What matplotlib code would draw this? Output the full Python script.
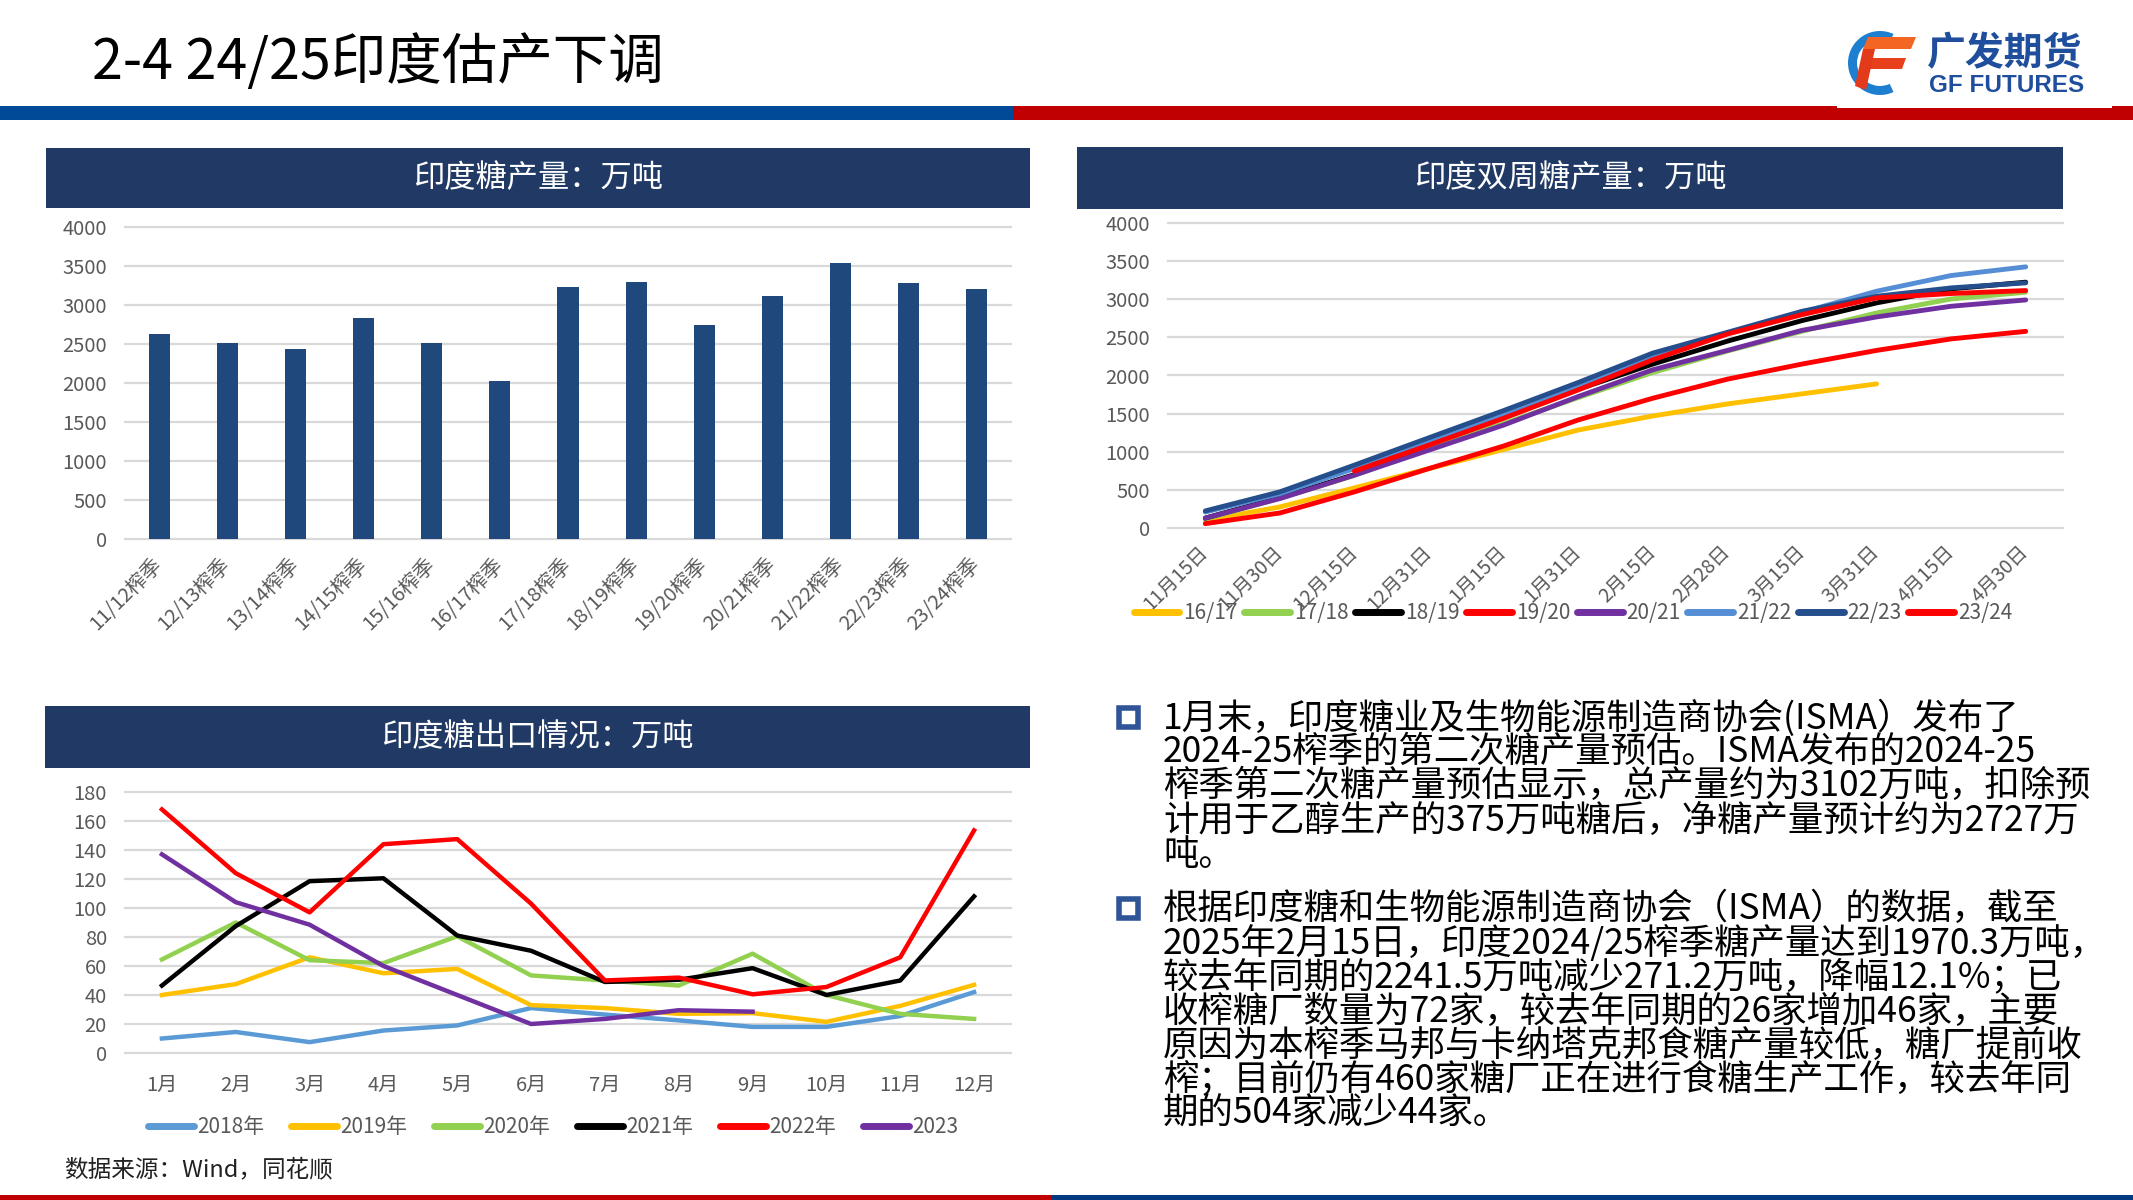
import numpy as np
import matplotlib
matplotlib.use('Agg')
import matplotlib.pyplot as plt
from matplotlib.patches import Rectangle, Wedge, Polygon
from matplotlib.lines import Line2D

plt.rcParams['font.family'] = ['Noto Sans CJK SC', 'DejaVu Sans']

# ---- data ----
seasons = ['11/12榨季', '12/13榨季', '13/14榨季', '14/15榨季', '15/16榨季', '16/17榨季', '17/18榨季',
           '18/19榨季', '19/20榨季', '20/21榨季', '21/22榨季', '22/23榨季', '23/24榨季']
production = [2630, 2510, 2440, 2830, 2510, 2030, 3230, 3300, 2750, 3120, 3540, 3280, 3200]

dates = ['11月15日', '11月30日', '12月15日', '12月31日', '1月15日', '1月31日', '2月15日',
         '2月28日', '3月15日', '3月31日', '4月15日', '4月30日']
s1617 = [100, 276, 526, 780, 1030, 1285, 1469, 1627, 1759, 1890, np.nan, np.nan]
s1718 = [120, 390, 690, 1050, 1370, 1710, 2040, 2320, 2580, 2820, 3004, 3092]
s1819 = [130, 400, 700, 1100, 1450, 1820, 2150, 2450, 2720, 2952, 3136, 3224]
s1920 = [57, 197, 474, 780, 1075, 1417, 1702, 1952, 2150, 2329, 2480, 2579]
s2021 = [130, 386, 693, 1022, 1350, 1724, 2075, 2329, 2592, 2768, 2908, 2991]
s2122 = [210, 450, 780, 1130, 1482, 1855, 2259, 2557, 2829, 3105, 3311, 3425]
s2223 = [224, 474, 825, 1184, 1540, 1908, 2294, 2566, 2842, 3039, 3149, 3215]
s2324 = [np.nan, np.nan, 746, 1088, 1439, 1811, 2206, 2544, 2798, 3018, 3075, 3114]
biweek_names = ['16/17', '17/18', '18/19', '19/20', '20/21', '21/22', '22/23', '23/24']
biweek_colors = ['#FFC000', '#92D050', '#000000', '#FF0000', '#7030A0', '#558ED5', '#254F8C', '#FF0000']

months = ['1月', '2月', '3月', '4月', '5月', '6月', '7月', '8月', '9月', '10月', '11月', '12月']
exp2018 = [10, 14.5, 7.5, 15.5, 19, 31, 26.5, 22.5, 18, 18, 25.5, 42]
exp2019 = [40, 47.5, 66, 55, 58, 33, 31, 27, 27.5, 21.5, 32.5, 47]
exp2020 = [64.5, 90, 64, 62, 80.5, 53.5, 50, 46.5, 68.5, 40, 27, 23.5]
exp2021 = [46.5, 87.5, 118.5, 120.5, 81, 70.5, 49, 50.5, 58.5, 40, 50, 108]
exp2022 = [168, 124, 97, 144, 147.5, 103, 50, 52, 40.5, 45.5, 66, 153.5]
exp2023 = [137, 104, 88.5, 60, 40, 20, 23.5, 29.5, 28.5, np.nan, np.nan, np.nan]
export_names = ['2018年', '2019年', '2020年', '2021年', '2022年', '2023']
export_colors = ['#5B9BD5', '#FFC000', '#92D050', '#000000', '#FF0000', '#7030A0']

para1 = ['1月末，印度糖业及生物能源制造商协会(ISMA）发布了',
         '2024-25榨季的第二次糖产量预估。ISMA发布的2024-25',
         '榨季第二次糖产量预估显示，总产量约为3102万吨，扣除预',
         '计用于乙醇生产的375万吨糖后，净糖产量预计约为2727万',
         '吨。']
para2 = ['根据印度糖和生物能源制造商协会（ISMA）的数据，截至',
         '2025年2月15日，印度2024/25榨季糖产量达到1970.3万吨，',
         '较去年同期的2241.5万吨减少271.2万吨，降幅12.1%；已',
         '收榨糖厂数量为72家，较去年同期的26家增加46家，主要',
         '原因为本榨季马邦与卡纳塔克邦食糖产量较低，糖厂提前收',
         '榨；目前仍有460家糖厂正在进行食糖生产工作，较去年同',
         '期的504家减少44家。']

W, H = 2133, 1200
NAVY = '#213A65'
GREY = '#595959'

fig = plt.figure(figsize=(W / 100, H / 100), dpi=100)
bg = fig.add_axes([0, 0, 1, 1])
bg.set_xlim(0, W)
bg.set_ylim(H, 0)
bg.axis('off')

# page decoration
bg.add_patch(Rectangle((0, 106), 1013, 14, color='#004A97', lw=0))
bg.add_patch(Rectangle((1013, 106), W - 1013, 14, color='#C00000', lw=0))
bg.add_patch(Rectangle((1837, 98), 275, 10, color='white', lw=0))
bg.add_patch(Rectangle((0, 1195), 1052, 5, color='#C00000', lw=0))
bg.add_patch(Rectangle((1052, 1195), W - 1052, 5, color='#003A80', lw=0))
bg.text(92, 63, '2-4 24/25印度估产下调', fontsize=40, va='center', ha='left', color='black')

# logo
bg.add_patch(Wedge((1880, 63), 32, 65, 295, width=9, color='#1E7FD0', lw=0))
bg.add_patch(Polygon([(1868, 37), (1916, 37), (1911, 49), (1863, 49)], color='#F26522', lw=0))
bg.add_patch(Polygon([(1872, 58), (1906, 58), (1902, 69), (1868, 69)], color='#E8401C', lw=0))
bg.add_patch(Polygon([(1863, 49), (1875, 49), (1866, 90), (1855, 86)], color='#E23A1B', lw=0))
bg.text(1927, 54, '广发期货', fontsize=28, fontweight='bold', color='#1F4E9C', va='center', ha='left')
bg.text(1929, 86, 'GF FUTURES', fontsize=17.5, fontweight='bold', color='#1F4E9C', va='center',
        ha='left', family='Liberation Sans')

# panel headers
headers = [((46, 148, 984, 60), '印度糖产量：万吨'),
           ((1077, 147, 986, 62), '印度双周糖产量：万吨'),
           ((45, 706, 985, 62), '印度糖出口情况：万吨')]
for (x, y, w, h), t in headers:
    bg.add_patch(Rectangle((x, y), w, h, color=NAVY, lw=0))
    bg.text(x + w / 2, y + h / 2, t, color='white', fontsize=22.5, ha='center', va='center')


def style_axis(ax, ymax, step):
    ax.set_facecolor('none')
    ax.set_ylim(0, ymax)
    ax.set_yticks(np.arange(0, ymax + 1, step))
    ax.grid(axis='y', color='#D9D9D9', lw=1.6)
    ax.set_axisbelow(True)
    for l in ax.get_ygridlines():
        l.set_clip_on(False)
    for s in ax.spines.values():
        s.set_visible(False)
    ax.tick_params(length=0, colors=GREY, labelsize=14.5)
    ax.tick_params(axis='y', pad=13)


# panel 1: production bars
ax1 = fig.add_axes([125 / W, 1 - 539 / H, 886 / W, 312 / H])
x1 = np.arange(len(seasons))
ax1.bar(x1, production, width=0.31, color='#1F497D')
ax1.set_xlim(-0.5, len(seasons) - 0.5)
style_axis(ax1, 4000, 500)
ax1.set_xticks(x1)
ax1.set_xticklabels(seasons, rotation=45, ha='right', va='center', rotation_mode='anchor')
ax1.tick_params(axis='x', pad=16, labelsize=14.5)

# panel 2: bi-weekly production lines
ax2 = fig.add_axes([1168 / W, 1 - 528 / H, 895 / W, 305 / H])
x2 = np.arange(len(dates))
series2 = [s1617, s1718, s1819, s1920, s2021, s2122, s2223, s2324]
for vals, name, c in zip(series2, biweek_names, biweek_colors):
    ax2.plot(x2, vals, color=c, lw=3.5, label=name, solid_capstyle='round')
ax2.set_xlim(-0.5, len(dates) - 0.5)
style_axis(ax2, 4000, 500)
ax2.set_xticks(x2)
ax2.set_xticklabels(dates, rotation=45, ha='right', va='center', rotation_mode='anchor')
ax2.tick_params(axis='x', pad=15, labelsize=14)
h2 = [Line2D([], [], color=c, lw=5, solid_capstyle='round') for c in biweek_colors]
ax2.legend(h2, biweek_names, loc='center', bbox_to_anchor=(1573 / W, 1 - 613 / H),
           bbox_transform=fig.transFigure, ncol=8, frameon=False, fontsize=15,
           handlelength=2.2, handletextpad=0.2, columnspacing=0.3, labelcolor=GREY)

# panel 3: exports
ax3 = fig.add_axes([125 / W, 1 - 1053 / H, 886 / W, 261 / H])
x3 = np.arange(len(months))
series3 = [exp2018, exp2019, exp2020, exp2021, exp2022, exp2023]
for vals, name, c in zip(series3, export_names, export_colors):
    ax3.plot(x3, vals, color=c, lw=3.2, label=name)
ax3.set_xlim(-0.5, len(months) - 0.5)
style_axis(ax3, 180, 20)
ax3.set_xticks(x3)
ax3.set_xticklabels(months)
ax3.tick_params(axis='x', pad=16, labelsize=14.5)
h3 = [Line2D([], [], color=c, lw=5, solid_capstyle='round') for c in export_colors]
ax3.legend(h3, export_names, loc='center', bbox_to_anchor=(553 / W, 1 - 1127 / H),
           bbox_transform=fig.transFigure, ncol=6, frameon=False, fontsize=15,
           handlelength=2.2, handletextpad=0.15, columnspacing=1.3, labelcolor=GREY)

bg.text(64, 1170, '数据来源：Wind，同花顺', fontsize=17, va='center', ha='left', color='#222222')

# bullet text
para_tops = [718, 909]
for top, lines in zip(para_tops, [para1, para2]):
    bg.add_patch(Rectangle((1119, top - 10), 19, 19, facecolor='none', edgecolor='#2F5597', lw=4))
    for i, line in enumerate(lines):
        bg.text(1163, top + i * 34.2, line, fontsize=25.5, va='center', ha='left', color='black')

fig.savefig('out.png', dpi=100)
